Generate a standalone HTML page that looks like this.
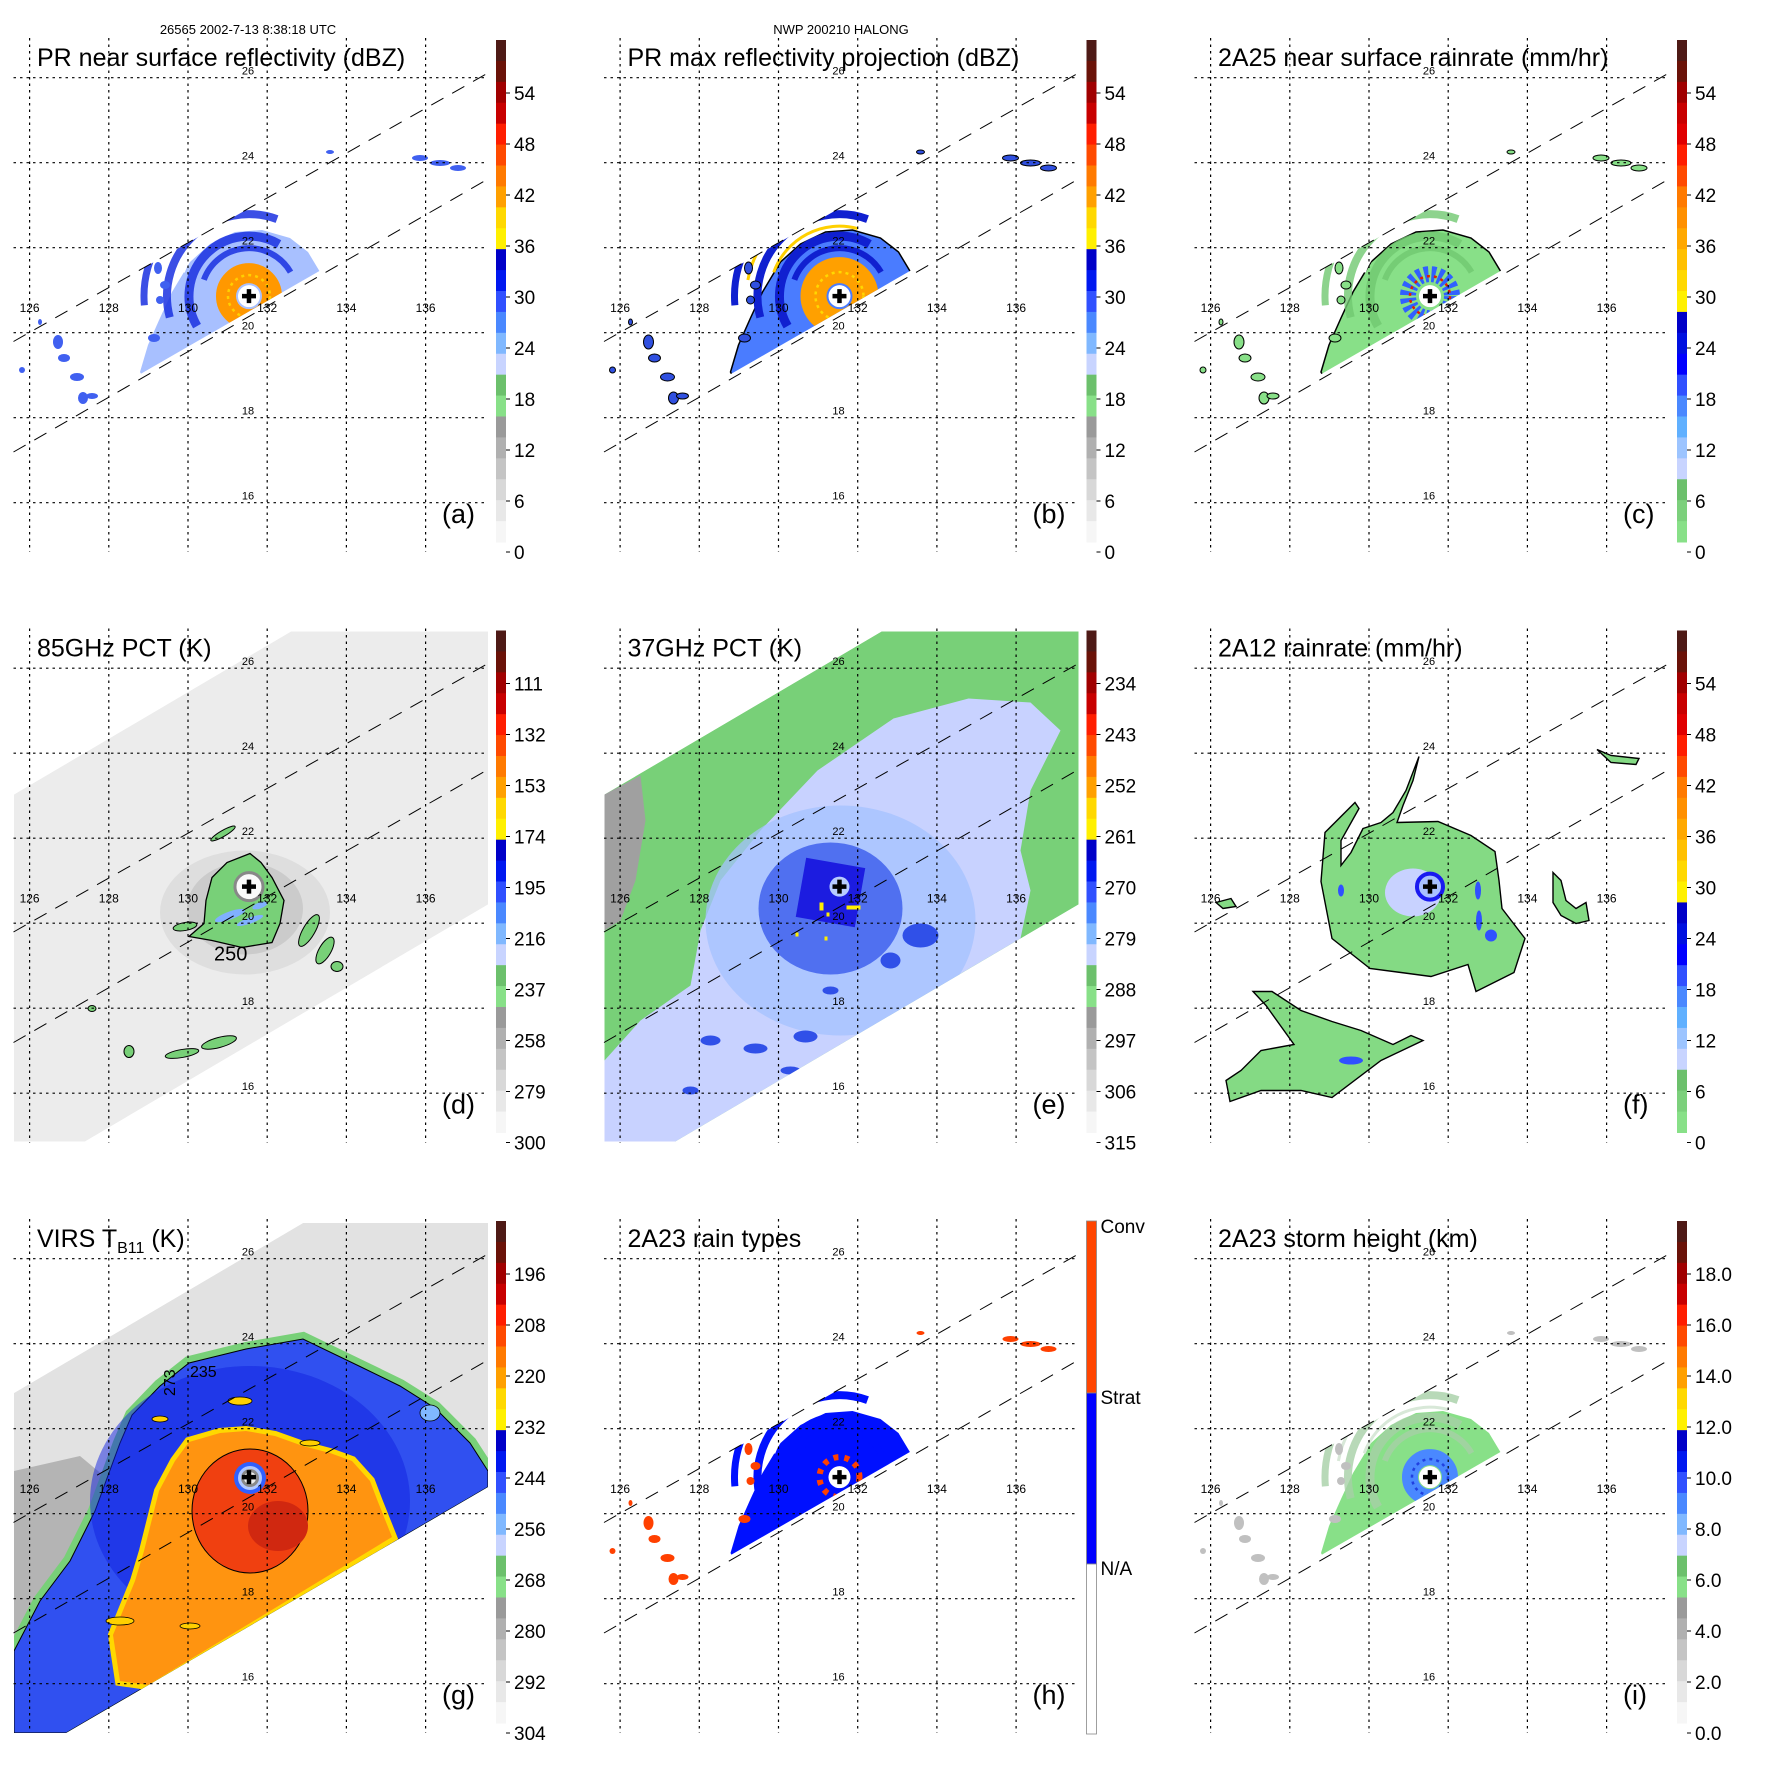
<!DOCTYPE html>
<html>
<head>
<meta charset="utf-8">
<style>
html,body{margin:0;padding:0;background:#fff;}
svg{display:block;font-family:"Liberation Sans",sans-serif;}
</style>
</head>
<body>
<svg id="fig" xmlns="http://www.w3.org/2000/svg" width="1771" height="1771" viewBox="0 0 1771 1771">
<rect x="0" y="0" width="1771" height="1771" fill="#fff"/>
<text x="248" y="34" font-size="13" text-anchor="middle">26565 2002-7-13 8:38:18 UTC</text>
<text x="841" y="34" font-size="13" text-anchor="middle">NWP 200210 HALONG</text>
</svg>
<script>
const NS='http://www.w3.org/2000/svg';
const PITCH=590.5;
const lonTicks=[126,128,130,132,134,136];
const latTicks=[26,24,22,20,18,16];
const stormCenter=[131.54,20.86];
const panelLetters=['a','b','c','d','e','f','g','h','i'];
const panelTitles=['PR near surface reflectivity (dBZ)','PR max reflectivity projection (dBZ)','2A25 near surface rainrate (mm/hr)','85GHz PCT (K)','37GHz PCT (K)','2A12 rainrate (mm/hr)','VIRS','2A23 rain types','2A23 storm height (km)'];
const cbarLabelsDbz=['54','48','42','36','30','24','18','12','6','0'];
const cbarLabelsRain=['54','48','42','36','30','24','18','12','6','0'];
const cbarLabels85=['111','132','153','174','195','216','237','258','279','300'];
const cbarLabels37=['234','243','252','261','270','279','288','297','306','315'];
const cbarLabelsVirs=['196','208','220','232','244','256','268','280','292','304'];
const cbarLabelsHeight=['18.0','16.0','14.0','12.0','10.0','8.0','6.0','4.0','2.0','0.0'];
const rainTypeLabels=['Conv','Strat','N/A'];
const paletteStd=['#4e1a16','#6a1208','#a00000','#c80000','#ff1e00','#ff4a00','#ff7a00','#ffa000','#ffd800','#fff000','#0000c8','#0018f0','#3050ff','#4a88ff','#80b8ff','#c8d4ff','#6cc06c','#88e088','#9a9a9a','#b0b0b0','#c4c4c4','#d8d8d8','#e8e8e8','#f6f6f6'];
const paletteRain=['#4e1a16','#6a1208','#a00000','#c80000','#e00000','#ff1e00','#ff4a00','#ff7a00','#ff9000','#ffa800','#ffc000','#ffd800','#fff000','#0000c8','#0010e0','#0000ff','#3050ff','#4a88ff','#60b0ff','#9cc4ff','#c8d4ff','#6cc06c','#7cd07c','#88e088'];

function xLon(l){return 29.6+(l-126)*39.6;}
function yLat(l){return 77.7+(26-l)*42.5;}
const svg=document.getElementById('fig');
function mk(tag,attrs,parent){const e=document.createElementNS(NS,tag);for(const k in attrs)e.setAttribute(k,attrs[k]);parent.appendChild(e);return e;}
function poly(pts){return pts.map(p=>p[0]+','+p[1]).join(' ');}
function arc(cx,cy,r,a1,a2){const t1=a1*Math.PI/180,t2=a2*Math.PI/180;const x1=cx+r*Math.cos(t1),y1=cy+r*Math.sin(t1),x2=cx+r*Math.cos(t2),y2=cy+r*Math.sin(t2);return 'M'+x1+' '+y1+' A'+r+' '+r+' 0 '+((a2-a1)>180?1:0)+' 1 '+x2+' '+y2;}

const swathTMI=[[14,204],[291,41],[488,41],[488,314],[85,551],[14,551]];
const swathVIRS=[[14,212],[303,42],[488,42],[488,306],[66,552],[14,552]];
const prClip=[[13.5,341.5],[488,73],[488,174],[13.5,447]];
const prWedge=[[140,372],[148,345],[160,318],[172,292],[190,262],[210,244],[235,232],[262,230],[290,238],[308,252],[320,272],[322,300],[150,390]];

function addClip(g,id,pts){
  const d=mk('defs',{},g);
  const cp=mk('clipPath',{id:id},d);
  mk('polygon',{points:poly(pts)},cp);
  return 'url(#'+id+')';
}

function plusMarker(g,cx,cy,eyeFill){
  if(eyeFill){const c=mk('circle',{cx:cx,cy:cy,r:10,fill:eyeFill},g);
  
  }
  const p=mk('path',{d:'M'+(cx-7)+' '+cy+' H'+(cx+7)+' M'+cx+' '+(cy-7)+' V'+(cy+7),stroke:'#000','stroke-width':4.5},g);
  
  
}

function prStorm(g,idx,pal){
  const clip=addClip(g,'prc'+idx,prClip);
  const s=mk('g',{'clip-path':clip},g);
  
  
  const cx=xLon(stormCenter[0]),cy=yLat(stormCenter[1]);
  const w=mk('polygon',{points:poly(prWedge),fill:pal.base,stroke:pal.outline||'none','stroke-width':1.5},s);
  
  
  const bands=[[60,150,300,9],[82,165,290,8],[105,175,260,7],[48,200,330,6]];
  bands.forEach(b=>{const a=mk('path',{d:arc(cx,cy,b[0],b[1],b[2]),fill:'none',stroke:pal.band,'stroke-width':b[3],'stroke-dasharray':pal.dash||'none',opacity:pal.bandOp||1},s);
    
    });
  if(pal.gap){[[70,200,285,3],[93,190,270,3]].forEach(b=>{const a=mk('path',{d:arc(cx,cy,b[0],b[1],b[2]),fill:'none',stroke:pal.gap,'stroke-width':b[3]},s);
    
    });}
  const r=mk('circle',{cx:cx,cy:cy,r:pal.ringR,fill:'none',stroke:pal.ring,'stroke-width':pal.ringW,'stroke-dasharray':pal.ringDash||'none'},s);
  
  
  if(pal.ring2){const r2=mk('circle',{cx:cx,cy:cy,r:pal.ringR-2,fill:'none',stroke:pal.ring2,'stroke-width':2.5,'stroke-dasharray':'3,4'},s);
    
    }
  const e=mk('circle',{cx:cx,cy:cy,r:11,fill:'#fff'},s);
  
  
  const cells=[[58,342,5,7],[64,358,6,4],[77,377,7,4],[83,398,5,6],[92,396,6,3],[154,338,6,4],[158,268,4,6],[165,285,5,4],[160,300,4,4],[420,158,8,3],[440,163,10,3],[458,168,8,3],[330,152,4,2],[22,370,3,3],[40,322,2,3]];
  cells.forEach(c=>{const el=mk('ellipse',{cx:c[0],cy:c[1],rx:c[2],ry:c[3],fill:pal.cell,stroke:pal.outline||'none','stroke-width':1},g);
    
    });
  plusMarker(g,cx,cy,null);
}

function panelGrid(g){
  latTicks.forEach(l=>{const ln=mk('line',{x1:13.5,x2:488,y1:yLat(l),y2:yLat(l),stroke:'#000','stroke-width':1.2,'stroke-dasharray':'2.5,4'},g);
    
    
    const t=mk('text',{x:248,y:yLat(l)-3,'font-size':11,'text-anchor':'middle'},g);
    t.textContent=String(l);
    
    });
  lonTicks.forEach(l=>{const ln=mk('line',{x1:xLon(l),x2:xLon(l),y1:38,y2:552,stroke:'#000','stroke-width':1.2,'stroke-dasharray':'2.5,4'},g);
    
    
    const t=mk('text',{x:xLon(l),y:312,'font-size':12,'text-anchor':'middle'},g);
    t.textContent=String(l);
    
    });
  [[13.5,341.5,488,73],[13.5,452,488,179]].forEach(s=>{const ln=mk('line',{x1:s[0],y1:s[1],x2:s[2],y2:s[3],stroke:'#000','stroke-width':1,'stroke-dasharray':'14,10'},g);
    
    });
}

function colorbar(g,palette,labels){
  const top=40,bot=542,h=(bot-top)/palette.length;
  const cb=mk('g',{},g);
  
  
  palette.forEach((c,i)=>{const r=mk('rect',{x:496,y:top+i*h,width:10,height:h+0.5,fill:c},cb);
    
    });
  labels.forEach((lab,i)=>{const y=97+i*51;
    const tk=mk('line',{x1:506,x2:510,y1:y-4,y2:y-4,stroke:'#000','stroke-width':1},cb);
    
    
    const t=mk('text',{x:514,y:y+3,'font-size':19},cb);
    t.textContent=lab;
    
    });
}

for(let i=0;i<9;i++){
  const col=i%3,row=Math.floor(i/3);
  const g=mk('g',{transform:'translate('+(col*PITCH)+','+(row*PITCH)+')'},svg);
  
  
  const cx=xLon(stormCenter[0]),cy=yLat(stormCenter[1]);

  if(i===0) prStorm(g,i,{base:'#a8c0ff',band:'#1a30e0',bandOp:0.85,gap:'#ffffff',ring:'#ff9800',ring2:'#ffd000',ringR:23,ringW:20,cell:'#4060f0'});
  if(i===1) prStorm(g,i,{base:'#4a7cff',band:'#1020d0',gap:'#ffd000',ring:'#ffa000',ring2:'#ffd800',ringR:26,ringW:26,cell:'#3050e0',outline:'#000'});
  if(i===2) prStorm(g,i,{base:'#88e088',band:'#70c870',bandOp:0.8,gap:'#ffffff',ring:'#3060ff',ring2:'#e02000',ringR:22,ringW:16,ringDash:'4,3',cell:'#88e088',outline:'#000'});
  if(i===7) prStorm(g,i,{base:'#0010ff',band:'#0010ff',gap:'#ffffff',ring:'#ff4000',ringR:20,ringW:6,ringDash:'5,6',cell:'#ff4000'});
  if(i===8) prStorm(g,i,{base:'#88e088',band:'#a6cfa6',bandOp:0.8,gap:'#d8e8d8',ring:'#4a88ff',ring2:'#2040e0',ringR:20,ringW:16,cell:'#c0c0c0'});

  if(i===3){
    const clip=addClip(g,'tmid',swathTMI);
    const s=mk('g',{'clip-path':clip},g);
    
    
    const bg=mk('polygon',{points:poly(swathTMI),fill:'#ececec'},s);
    
    
    const h1=mk('ellipse',{cx:245,cy:322,rx:85,ry:62,fill:'#d8d8d8',opacity:0.7},s);
    
    
    const h2=mk('ellipse',{cx:245,cy:318,rx:58,ry:46,fill:'#b8b8b8',opacity:0.5},s);
    
    
    const gb=mk('polygon',{points:poly([[212,287],[227,272],[250,263],[261,272],[272,287],[284,310],[280,333],[272,352],[242,357],[212,350],[189,346],[204,333],[206,310]]),fill:'#78d078',stroke:'#000','stroke-width':1.3},s);
    
    
    [[230,325,16,4],[250,330,14,3],[260,315,8,3]].forEach(b=>{const e=mk('ellipse',{cx:b[0],cy:b[1],rx:b[2],ry:b[3],fill:'#80b0ff',transform:'rotate(-20 '+b[0]+' '+b[1]+')'},s);
      
      });
    [[309,340,6,18,30],[325,360,6,15,30],[337,376,6,5,0],[223,243,14,3,-30],[185,336,12,4,-10],[182,463,17,4,-10],[219,452,18,5,-15],[129,461,5,6,0],[92,418,4,3,0],[200,510,4,3,0]].forEach(b=>{const e=mk('ellipse',{cx:b[0],cy:b[1],rx:b[2],ry:b[3],fill:'#78d078',stroke:'#000','stroke-width':1,transform:'rotate('+b[4]+' '+b[0]+' '+b[1]+')'},s);
      
      });
    const ey=mk('circle',{cx:cx,cy:cy,r:14,fill:'#fafafa',stroke:'#888','stroke-width':3},s);
    
    
    const lab=mk('text',{x:214,y:370,'font-size':20},g);
    lab.textContent='250';
    
    
    plusMarker(g,cx,cy,null);
  }
  if(i===4){
    const clip=addClip(g,'tmie',swathTMI);
    const s=mk('g',{'clip-path':clip},g);
    
    
    const bg=mk('polygon',{points:poly(swathTMI),fill:'#78d078'},s);
    
    
    const gr=mk('polygon',{points:poly([[14,204],[50,185],[55,230],[45,290],[30,330],[14,340]]),fill:'#a0a0a0'},s);
    
    
    const lav=mk('polygon',{points:poly([[14,470],[50,430],[100,395],[110,340],[130,290],[170,240],[227,180],[303,128],[378,108],[440,112],[470,140],[440,200],[430,260],[440,300],[430,348],[85,551],[14,551]]),fill:'#c8d2ff'},s);
    
    
    const lb=mk('ellipse',{cx:250,cy:330,rx:135,ry:115,fill:'#a4c2ff',opacity:0.75},s);
    
    
    const mb=mk('ellipse',{cx:240,cy:318,rx:72,ry:66,fill:'#5070f0'},s);
    
    
    const db=mk('rect',{x:210,y:272,width:60,height:60,fill:'#1c1ce0',transform:'rotate(10 240 302)'},s);
    
    
    [[330,345,18,12],[300,370,10,8],[120,450,10,5],[165,458,12,5],[215,446,12,6],[240,400,8,4],[100,500,8,4],[200,480,10,4]].forEach(b=>{const e=mk('ellipse',{cx:b[0],cy:b[1],rx:b[2],ry:b[3],fill:'#3050e8'},s);
      
      });
    [[229,312,4,8],[236,322,3,4],[256,315,14,4],[205,342,3,4],[234,346,3,4]].forEach(b=>{const e=mk('rect',{x:b[0],y:b[1],width:b[2],height:b[3],fill:'#ffee00'},s);
      
      });
    plusMarker(g,cx,cy,'#b8ccff');
  }
  if(i===5){
    const clip=addClip(g,'tmif',swathTMI);
    const s=mk('g',{'clip-path':clip},g);
    
    
    const shapes=[
      [[182,238],[200,232],[212,222],[225,200],[238,166],[232,190],[222,215],[216,232],[257,231],[290,245],[314,261],[318,290],[321,318],[344,348],[333,382],[295,401],[287,374],[250,386],[220,382],[189,378],[151,348],[140,291],[144,242],[174,212],[178,218],[160,250],[160,275],[170,262]],
      [[372,282],[380,290],[385,310],[395,318],[405,312],[408,330],[395,333],[380,325],[372,312]],
      [[49,511],[80,500],[120,500],[151,507],[200,470],[242,450],[230,445],[212,454],[180,440],[151,431],[120,420],[91,401],[72,401],[85,415],[113,454],[80,460],[60,480],[45,490]],
      [[416,159],[430,165],[458,168],[455,174],[430,172]],
      [[35,312],[50,308],[55,316],[42,318]]
    ];
    shapes.forEach(sh=>{const p=mk('polygon',{points:poly(sh),fill:'#84da84',stroke:'#000','stroke-width':1.4},s);
      
      });
    const lv=mk('ellipse',{cx:232,cy:302,rx:28,ry:24,fill:'#c8d2ff'},s);
    
    
    const rg=mk('circle',{cx:cx,cy:cy,r:13,fill:'#a8c0ff',stroke:'#1a1af0','stroke-width':4},s);
    
    
    [[297,300,3,9],[298,330,3,10],[160,300,3,6],[310,345,6,6],[170,470,12,4]].forEach(b=>{const e=mk('ellipse',{cx:b[0],cy:b[1],rx:b[2],ry:b[3],fill:'#3050ff'},s);
      
      });
    plusMarker(g,cx,cy,null);
  }
  if(i===6){
    const clip=addClip(g,'virs',swathVIRS);
    const s=mk('g',{'clip-path':clip},g);
    
    
    const bg=mk('polygon',{points:poly(swathVIRS),fill:'#e2e2e2'},s);
    
    
    const dg=mk('polygon',{points:poly([[14,290],[80,275],[110,300],[75,385],[14,470]]),fill:'#b4b4b4'},s);
    
    
    const outer=[[14,470],[40,420],[70,380],[95,330],[106,300],[120,262],[132,234],[160,205],[189,182],[246,168],[303,158],[359,185],[400,205],[435,227],[470,262],[488,290],[488,306],[66,552],[14,552]];
    const og=mk('polygon',{points:poly(outer),fill:'#78d078',stroke:'#78d078','stroke-width':14},s);
    
    
    const ob=mk('polygon',{points:poly(outer),fill:'#3050f0',stroke:'#000','stroke-width':1},s);
    
    
    const ib=mk('ellipse',{cx:250,cy:320,rx:160,ry:135,fill:'#1020e0',opacity:0.5},s);
    
    
    const orPts=[[113,454],[135,400],[144,370],[159,310],[175,280],[189,261],[220,252],[246,250],[275,255],[303,265],[330,272],[352,280],[370,300],[378,321],[392,356],[148,504],[120,500]];
    const oy=mk('polygon',{points:poly(orPts),fill:'#ffd800',stroke:'#ffd800','stroke-width':10},s);
    
    
    const oo=mk('polygon',{points:poly(orPts),fill:'#ff9410'},s);
    
    
    const rc=mk('ellipse',{cx:250,cy:330,rx:58,ry:62,fill:'#f04010',stroke:'#000','stroke-width':1},s);
    
    
    const rd=mk('ellipse',{cx:278,cy:345,rx:30,ry:25,fill:'#d02810'},s);
    
    
    [[240,220,12,4],[310,262,10,3],[160,238,8,3],[120,440,14,4],[190,445,10,3],[430,232,10,8]].forEach(b=>{const e=mk('ellipse',{cx:b[0],cy:b[1],rx:b[2],ry:b[3],fill:b[0]===430?'#80b8ff':'#ffd000',stroke:'#000','stroke-width':0.8},s);
      
      });
    [[250,297,16,'#3060ff'],[250,297,12,'#b0c8ff'],[250,297,9,'#8a8a8a'],[250,297,6,'#f0f0f0']].forEach(c=>{const e=mk('circle',{cx:c[0],cy:c[1],r:c[2],fill:c[3]},s);
      
      });
    const c1=mk('text',{x:190,y:196,'font-size':16},g);
    c1.textContent='235';
    
    
    const c2=mk('text',{x:0,y:0,'font-size':16,transform:'translate(175,215) rotate(-90)'},g);
    c2.textContent='273';
    
    
    plusMarker(g,cx,cy,null);
  }

  panelGrid(g);

  if(i===7){
    const cb=mk('g',{},g);
    
    
    [[40,212,'#ff4500'],[212,383,'#0000ff'],[383,553,'#ffffff']].forEach(s=>{const r=mk('rect',{x:496,y:s[0],width:10,height:s[1]-s[0],fill:s[2],stroke:'#888','stroke-width':0.8},cb);
      
      });
    [40,211,382].forEach((y,k)=>{const t=mk('text',{x:510,y:y+12,'font-size':19},cb);
      t.textContent=rainTypeLabels[k];
      
      });
  } else {
    const pal=(i===2||i===5)?paletteRain:paletteStd;
    const labs=[cbarLabelsDbz,cbarLabelsDbz,cbarLabelsRain,cbarLabels85,cbarLabels37,cbarLabelsRain,cbarLabelsVirs,null,cbarLabelsHeight][i];
    colorbar(g,pal,labs);
  }

  const t=mk('text',{x:37,y:66,'font-size':25},g);
  
  
  if(i===6){
    t.textContent='VIRS T';
    const sub=mk('tspan',{'font-size':16,dy:6},t);
    sub.textContent='B11';
    
    
    const rest=mk('tspan',{dy:-6},t);
    rest.textContent=' (K)';
    
    
  } else t.textContent=panelTitles[i];
  const lt=mk('text',{x:442,y:523,'font-size':27},g);
  lt.textContent='('+panelLetters[i]+')';
  
  
}
</script>
</body>
</html>
